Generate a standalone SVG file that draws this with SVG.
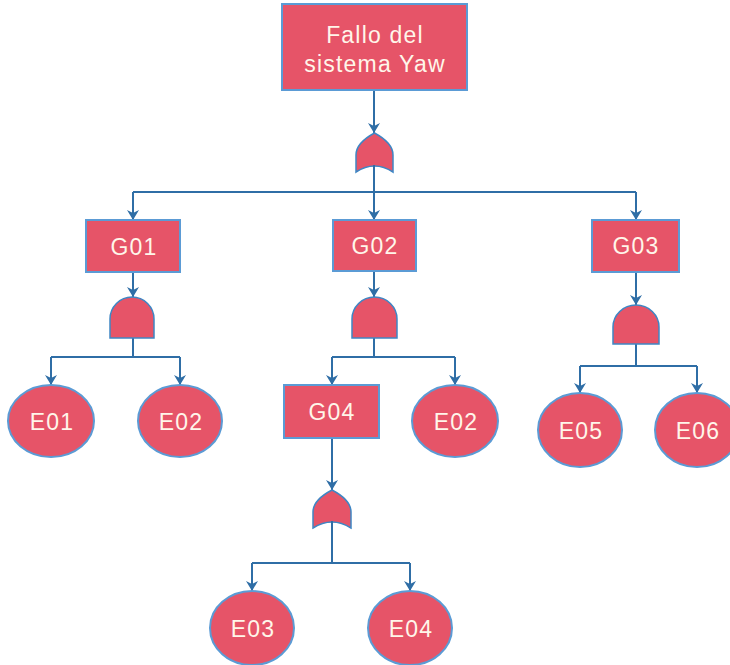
<svg xmlns="http://www.w3.org/2000/svg" width="730" height="665" viewBox="0 0 730 665">
<defs>
<style>
.n{fill:#e65468;stroke:#5b9bd5;stroke-width:2}
.g{fill:#e65468;stroke:#3f86c4;stroke-width:1.5}
.t{font-family:"Liberation Sans",Arial,sans-serif;font-size:23px;letter-spacing:1.2px;fill:#fff6ea;text-anchor:middle}
.c{fill:none;stroke:#2f6ea6;stroke-width:2}
</style>
<marker id="a" markerUnits="userSpaceOnUse" markerWidth="14" markerHeight="12" refX="10" refY="6" orient="auto">
<path d="M0,0 L10,6 L0,12 L3,6 Z" fill="#2f6ea6"/>
</marker>
</defs>
<g id="connectors">
<path class="c" d="M374,90 V133" marker-end="url(#a)"/>
<path class="c" d="M374,160 V192 M133,192 H636"/>
<path class="c" d="M133,192 V220" marker-end="url(#a)"/>
<path class="c" d="M374,192 V220" marker-end="url(#a)"/>
<path class="c" d="M636,192 V220" marker-end="url(#a)"/>
<path class="c" d="M133,272 V297" marker-end="url(#a)"/>
<path class="c" d="M133,338 V357 M51,357 H180"/>
<path class="c" d="M51,357 V385" marker-end="url(#a)"/>
<path class="c" d="M180,357 V385" marker-end="url(#a)"/>
<path class="c" d="M374,271 V297" marker-end="url(#a)"/>
<path class="c" d="M374,338 V357 M332,357 H455"/>
<path class="c" d="M332,357 V385" marker-end="url(#a)"/>
<path class="c" d="M455,357 V385" marker-end="url(#a)"/>
<path class="c" d="M332,438 V490" marker-end="url(#a)"/>
<path class="c" d="M332,518 V563 M252,563 H410"/>
<path class="c" d="M252,563 V591" marker-end="url(#a)"/>
<path class="c" d="M410,563 V591" marker-end="url(#a)"/>
<path class="c" d="M636,272 V305" marker-end="url(#a)"/>
<path class="c" d="M636,344 V366 M580,366 H697"/>
<path class="c" d="M580,366 V393" marker-end="url(#a)"/>
<path class="c" d="M697,366 V393" marker-end="url(#a)"/>
</g>
<g id="top">
<rect class="n" x="282" y="4" width="185" height="86"/>
<text class="t" x="375" y="43">Fallo del</text>
<text class="t" x="375" y="72">sistema Yaw</text>
</g>
<g id="or1">
<path class="g" d="M374.5,133 Q393,143 393,155 L393,172 Q374.5,160 356,172 L356,155 Q356,143 374.5,133 Z"/>
<path class="c" d="M374,165 V175"/>
</g>
<g id="G01">
<rect class="n" x="86" y="220" width="94" height="52"/>
<text class="t" x="134" y="255">G01</text>
</g>
<g id="G02">
<rect class="n" x="333" y="220" width="83" height="51"/>
<text class="t" x="375" y="254">G02</text>
</g>
<g id="G03">
<rect class="n" x="592" y="220" width="87" height="52"/>
<text class="t" x="636" y="254">G03</text>
</g>
<g id="and1">
<path class="g" d="M110,338 L110,319 A22,22 0 0 1 154,319 L154,338 Z"/>
</g>
<g id="and2">
<path class="g" d="M352,338 L352,319 A22.5,22 0 0 1 397,319 L397,338 Z"/>
</g>
<g id="and3">
<path class="g" d="M613,344 L613,327 A23,22 0 0 1 659,327 L659,344 Z"/>
</g>
<g id="E01">
<ellipse class="n" cx="51" cy="421" rx="43" ry="36"/>
<text class="t" x="52" y="430">E01</text>
</g>
<g id="E02a">
<ellipse class="n" cx="180" cy="421" rx="42" ry="36"/>
<text class="t" x="181" y="430">E02</text>
</g>
<g id="G04">
<rect class="n" x="284" y="385" width="95" height="53"/>
<text class="t" x="332" y="420">G04</text>
</g>
<g id="E02b">
<ellipse class="n" cx="455" cy="421" rx="43" ry="36"/>
<text class="t" x="456" y="430">E02</text>
</g>
<g id="or2">
<path class="g" d="M332,490 Q351,500 351,512 L351,528 Q332,516 313,528 L313,512 Q313,500 332,490 Z"/>
<path class="c" d="M332,521 V530"/>
</g>
<g id="E05">
<ellipse class="n" cx="580" cy="430" rx="42" ry="37"/>
<text class="t" x="581" y="439">E05</text>
</g>
<g id="E06">
<ellipse class="n" cx="697" cy="430" rx="42" ry="37"/>
<text class="t" x="698" y="439">E06</text>
</g>
<g id="E03">
<ellipse class="n" cx="252" cy="628" rx="42" ry="37"/>
<text class="t" x="253" y="637">E03</text>
</g>
<g id="E04">
<ellipse class="n" cx="410" cy="628" rx="42" ry="37"/>
<text class="t" x="411" y="637">E04</text>
</g>
</svg>
